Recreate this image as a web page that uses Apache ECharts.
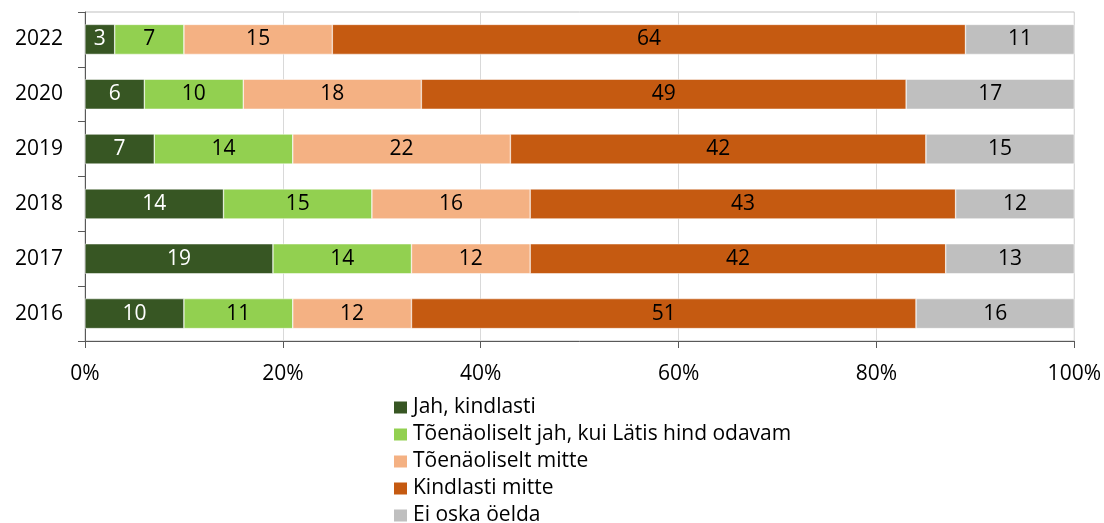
<!DOCTYPE html>
<html>
<head>
<meta charset="utf-8">
<script src="https://cdn.jsdelivr.net/npm/echarts@6/dist/echarts.min.js"></script>
<style>
  html, body { margin: 0; padding: 0; background: #fff; }
  #chart { width: 1104px; height: 523px; }
</style>
</head>
<body>
<div id="chart"></div>
<script>
// aastad ülalt alla
var years = ['2022', '2020', '2019', '2018', '2017', '2016'];

var jahKindlasti = [3, 6, 7, 14, 19, 10];
var toenaoliseltJah = [7, 10, 14, 15, 14, 11];
var toenaoliseltMitte = [15, 18, 22, 16, 12, 12];
var kindlastiMitte = [64, 49, 42, 43, 42, 51];
var eiOska = [11, 17, 15, 12, 13, 16];

var seriesNames = [
    'Jah, kindlasti',
    'Tõenäoliselt jah, kui Lätis hind odavam',
    'Tõenäoliselt mitte',
    'Kindlasti mitte',
    'Ei oska öelda'
];
var seriesData = [jahKindlasti, toenaoliseltJah, toenaoliseltMitte, kindlastiMitte, eiOska];
var colors = ['#375623', '#92D050', '#F4B183', '#C55A11', '#BFBFBF'];
var labelColors = ['#ffffff', '#000000', '#000000', '#000000', '#000000'];

var font = 'Open Sans';

var chart = echarts.init(document.getElementById('chart'));

var option = {
    animation: false,
    textStyle: { fontFamily: font },
    grid: {
        left: 85,
        right: 29,
        top: 12,
        bottom: 182,
        show: true,
        borderColor: '#bfbfbf',
        borderWidth: 1
    },
    legend: {
        orient: 'vertical',
        left: 392,
        top: 397,
        height: 200,
        padding: 0,
        itemWidth: 15,
        itemHeight: 14,
        itemGap: 6,
        icon: 'rect',
        textStyle: { fontFamily: font, fontSize: 21, lineHeight: 21, color: '#000' },
        data: seriesNames
    },
    xAxis: {
        type: 'value',
        min: 0,
        max: 100,
        interval: 20,
        axisLine: { show: true, lineStyle: { color: '#595959' } },
        axisTick: { show: true, length: 7, lineStyle: { color: '#595959' } },
        splitLine: { show: true, lineStyle: { color: '#d9d9d9', width: 1 } },
        axisLabel: {
            formatter: '{value}%',
            color: '#000',
            fontSize: 21,
            margin: 23,
            fontFamily: font
        }
    },
    yAxis: {
        type: 'category',
        inverse: true,
        data: years,
        axisLine: { show: true, lineStyle: { color: '#595959' } },
        axisTick: { show: true, length: 7, lineStyle: { color: '#595959' } },
        axisLabel: { color: '#000', fontSize: 21, margin: 22, fontFamily: font }
    },
    series: seriesNames.map(function (name, i) {
        return {
            name: name,
            type: 'bar',
            stack: 'total',
            barWidth: 30,
            data: seriesData[i],
            itemStyle: { color: colors[i], borderColor: '#ffffff', borderWidth: 0.5 },
            label: {
                show: true,
                position: 'inside',
                color: labelColors[i],
                fontSize: 21,
                fontFamily: font
            }
        };
    })
};

chart.setOption(option);
</script>
</body>
</html>
